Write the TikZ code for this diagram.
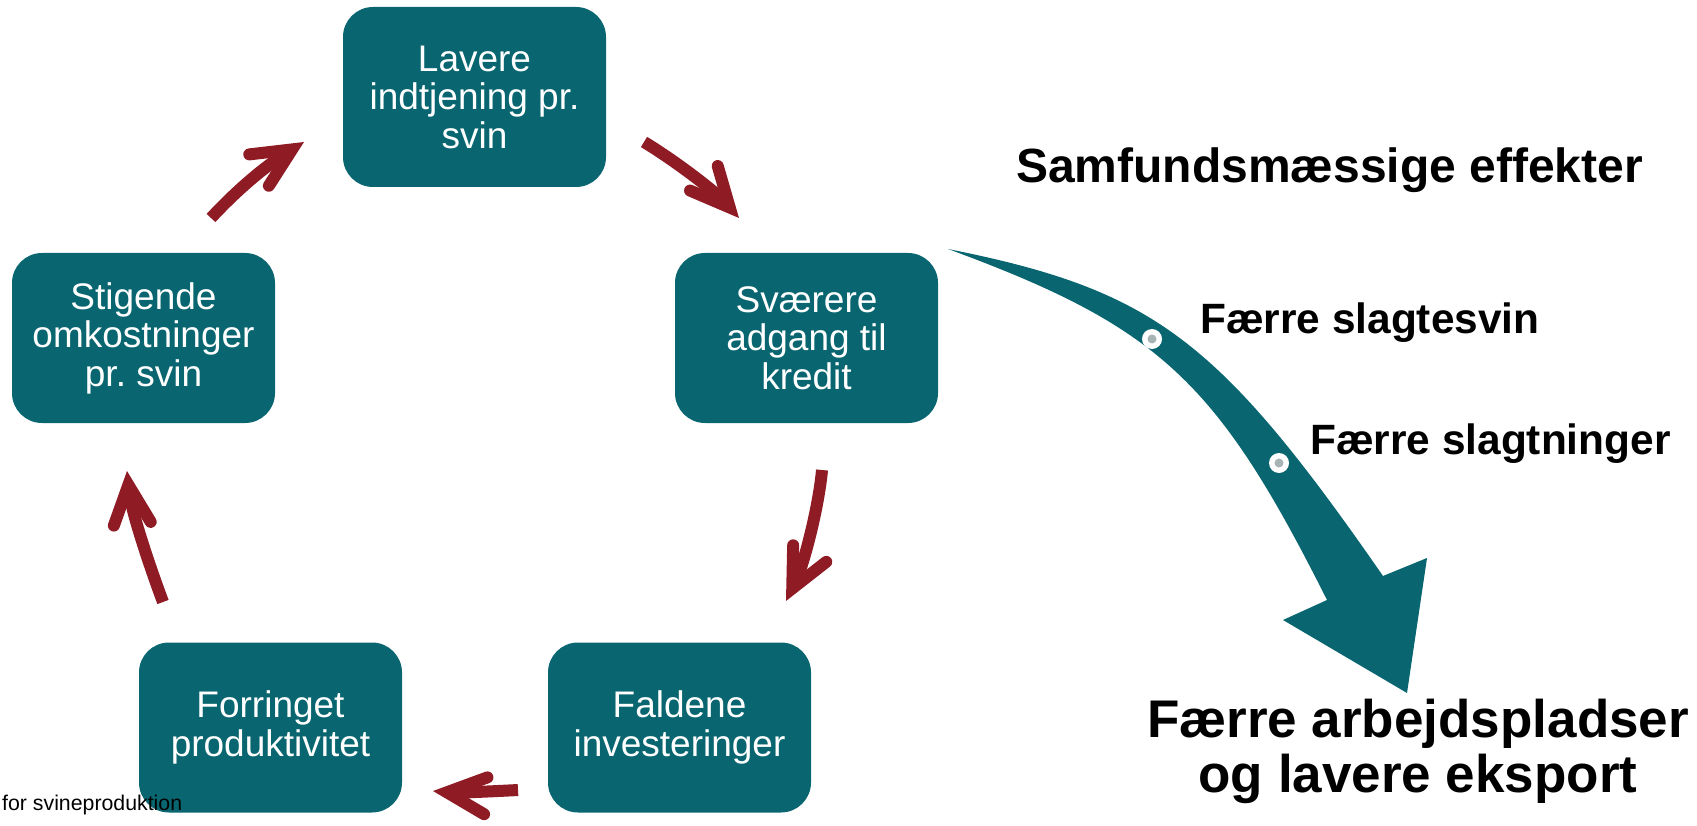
\documentclass[tikz,border=0pt]{standalone}
\usepackage{fontspec}
\setmainfont{Liberation Sans}
\usetikzlibrary{arrows.meta}
\definecolor{tealbox}{RGB}{9,102,112}
\definecolor{wine}{RGB}{143,27,37}
\definecolor{dotgray}{RGB}{167,179,181}
\frenchspacing
\begin{document}
\begin{tikzpicture}[x=1pt,y=-1pt,
  box/.style={fill=tealbox, rounded corners=30pt, minimum width=263pt, minimum height=170pt,
    align=center, text=white, font=\fontsize{37}{38.5}\selectfont, inner sep=0pt},
  cyc/.style={draw=wine, line width=12pt,
    -{Straight Barb[length=39pt,width=37pt,line cap=round,line join=miter]}},
  lbl/.style={font=\bfseries\fontsize{42.4}{48}\selectfont, anchor=base west, inner sep=0pt},
  big/.style={font=\bfseries\fontsize{53}{55}\selectfont, anchor=base, inner sep=0pt},
]
\useasboundingbox (0,0) rectangle (1697,826);

% boxes
\node[box, minimum height=180pt] (lav) at (474.5,97) {Lavere\\indtjening pr.\\svin};
\node[box] (svae) at (806.5,338) {Sværere\\adgang til\\kredit};
\node[box] (fald) at (679.5,727.5) {Faldene\\investeringer};
\node[box] (forr) at (270.5,727.5) {Forringet\\produktivitet};
\node[box] (stig) at (143.5,338) {Stigende\\omkostninger\\pr. svin};

% cycle arrows
\coordinate (a1s) at (211,218);  \coordinate (a1e) at (304,142);
\coordinate (a2s) at (644,142);  \coordinate (a2e) at (739,218);
\coordinate (a3s) at (822,470);  \coordinate (a3e) at (786,601);
\coordinate (a4s) at (518,790);  \coordinate (a4e) at (433,791);
\coordinate (a5s) at (163,602);  \coordinate (a5e) at (127,471);
\draw[cyc] (a1s) .. controls (236,191) and (264,167) .. (a1e);
\draw[cyc] (a2s) .. controls (674,160) and (716,192) .. (a2e);
\draw[cyc] (a3s) .. controls (819,505) and (804,565) .. (a3e);
\draw[cyc] (a4s) .. controls (500,791) and (455,793) .. (a4e);
\draw[cyc] (a5s) .. controls (151,570) and (131,511) .. (a5e);

% big curved arrow
\fill[tealbox] (948,249) .. controls (1153,290) and (1218,338) .. (1383,576)
  -- (1427,558) -- (1407,693) -- (1283,620) -- (1327,600)
  .. controls (1217,381) and (1160,327) .. (948,249) -- cycle;
\fill[white] (1152,339) circle (10pt);
\fill[dotgray] (1152,339) circle (4.5pt);
\fill[white] (1279,463) circle (10pt);
\fill[dotgray] (1279,463) circle (4.5pt);

% texts
\node[font=\bfseries\fontsize{48}{54}\selectfont, anchor=base west, inner sep=0pt] (title) at (1016,183) {Samfundsmæssige effekter};
\node[lbl] (l1) at (1200,333) {Færre slagtesvin};
\node[lbl] (l2) at (1310,454) {Færre slagtninger};
\node[big] (res1) at (1418,737) {Færre arbejdspladser};
\node[big] (res2) at (1418,792) {og lavere eksport};
\node[font=\fontsize{21.3}{24}\selectfont, anchor=base west, inner sep=0pt] (src) at (2,810) {for svineproduktion};
\end{tikzpicture}
\end{document}
